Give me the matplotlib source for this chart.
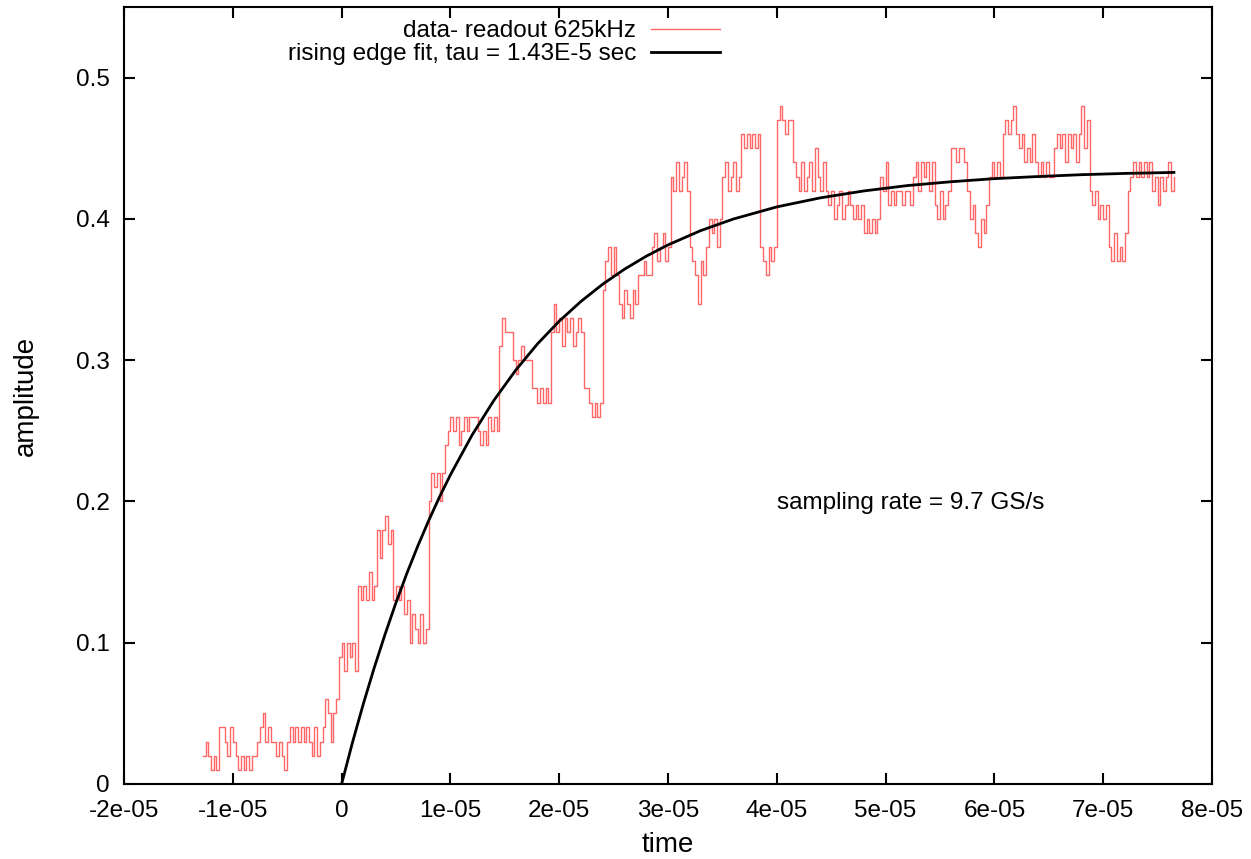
import matplotlib
matplotlib.use("Agg")
import matplotlib.pyplot as plt
import numpy as np

plt.rcParams['font.family'] = ['Liberation Sans', 'DejaVu Sans']

# readout samples (amplitude in units of 0.01), one every 0.25 us starting at -12.75 us
t_start = -12.75e-6
t_step = 0.25e-6
amp_centi = [
    2, 3, 2, 1, 2, 1, 4, 4, 3, 2, 4, 3, 2, 1, 2, 1, 2, 1, 2, 2,
    3, 4, 5, 3, 4, 3, 3, 2, 3, 2, 1, 3, 4, 3, 4, 3, 4, 3, 4, 3,
    2, 4, 2, 3, 4, 6, 5, 3, 5, 6, 9, 10, 8, 10, 9, 10, 8, 14, 13, 14,
    13, 15, 13, 14, 18, 16, 18, 19, 17, 18, 13, 14, 13, 14, 12, 13, 10, 12, 11, 10,
    12, 10, 11, 20, 22, 21, 22, 20, 22, 24, 25, 26, 25, 26, 24, 25, 26, 25, 26, 26,
    26, 25, 24, 25, 24, 26, 25, 26, 25, 31, 33, 32, 32, 32, 30, 29, 30, 31, 30, 30,
    30, 28, 28, 27, 28, 27, 28, 27, 32, 34, 32, 33, 31, 33, 32, 33, 31, 32, 33, 32,
    28, 28, 27, 26, 27, 26, 27, 35, 37, 38, 36, 38, 36, 34, 33, 35, 34, 33, 35, 34,
    36, 36, 37, 36, 36, 38, 39, 37, 38, 39, 37, 38, 43, 42, 44, 42, 43, 44, 42, 38,
    37, 36, 34, 37, 36, 38, 40, 39, 40, 38, 40, 43, 44, 42, 43, 44, 42, 43, 46, 45,
    46, 45, 46, 45, 46, 38, 37, 36, 38, 37, 38, 47, 48, 47, 46, 47, 47, 44, 43, 42,
    44, 42, 43, 44, 42, 45, 43, 42, 44, 42, 41, 42, 40, 41, 42, 40, 41, 42, 41, 40,
    41, 40, 41, 39, 40, 39, 40, 39, 40, 43, 42, 44, 41, 42, 41, 42, 42, 41, 42, 42,
    41, 43, 44, 42, 44, 43, 44, 42, 44, 41, 40, 42, 40, 41, 42, 45, 45, 44, 45, 45,
    44, 42, 40, 41, 39, 38, 40, 39, 41, 43, 44, 43, 44, 43, 46, 47, 46, 47, 48, 46,
    45, 46, 44, 45, 44, 46, 44, 43, 44, 43, 44, 43, 43, 45, 46, 45, 46, 44, 46, 45,
    46, 44, 46, 48, 45, 47, 42, 41, 42, 40, 41, 40, 41, 38, 37, 39, 37, 38, 37, 39,
    42, 43, 44, 43, 44, 43, 44, 43, 44, 42, 43, 41, 43, 42, 43, 44, 42, 43,
]

# rising edge fit (time in us, amplitude)
fit_t_us = [0, 1, 2, 3, 4, 5, 6, 7, 8, 9, 10, 12, 14, 16, 18, 20, 22, 24, 26, 28,
            30, 33, 36, 40, 44, 48, 52, 56, 60, 64, 68, 72, 76.5]
fit_amp = [0.0, 0.0294, 0.0568, 0.0823, 0.1061, 0.1284, 0.1491, 0.1684, 0.1864,
           0.2032, 0.2188, 0.2471, 0.2716, 0.2929, 0.3115, 0.3276, 0.3416, 0.3538,
           0.3644, 0.3736, 0.3816, 0.3917, 0.3999, 0.4085, 0.4149, 0.4198, 0.4236,
           0.4263, 0.4285, 0.4300, 0.4313, 0.4322, 0.4329]

x_ticks = [-2e-05, -1e-05, 0, 1e-05, 2e-05, 3e-05, 4e-05, 5e-05, 6e-05, 7e-05, 8e-05]
x_labels = ["-2e-05", "-1e-05", "0", "1e-05", "2e-05", "3e-05", "4e-05",
            "5e-05", "6e-05", "7e-05", "8e-05"]
y_ticks = [0, 0.1, 0.2, 0.3, 0.4, 0.5]
y_labels = ["0", "0.1", "0.2", "0.3", "0.4", "0.5"]

amp = np.array(amp_centi) / 100.0
t = t_start + t_step * np.arange(len(amp))
fit_t = np.array(fit_t_us) * 1e-6

fs = 17.5

fig = plt.figure(figsize=(12.51, 8.59), dpi=100)
ax = fig.add_axes([124 / 1251, 1 - 784 / 859, 1088 / 1251, 777 / 859])

ax.plot(t, amp, color='#ff0000', alpha=0.6, lw=1.0, drawstyle='steps-post',
        label="data- readout 625kHz")
ax.plot(fit_t, fit_amp, color='black', lw=2.0,
        label="rising edge fit, tau = 1.43E-5 sec")

ax.set_xlim(-2e-05, 8e-05)
ax.set_ylim(0, 0.55)
ax.set_xticks(x_ticks)
ax.set_xticklabels(x_labels)
ax.set_yticks(y_ticks)
ax.set_yticklabels(y_labels)
ax.tick_params(direction='in', length=8, width=1.5, top=True, right=True,
               labelsize=fs)
ax.tick_params(axis='x', pad=11.5)
ax.tick_params(axis='y', pad=10)
for s in ax.spines.values():
    s.set_linewidth(1.5)

ax.set_xlabel("time", fontsize=20, labelpad=7.5)
ax.set_ylabel("amplitude", fontsize=20, labelpad=27)

ax.text(5.23e-05, 0.199, "sampling rate = 9.7 GS/s", fontsize=fs,
        ha='center', va='center')

leg = ax.legend(loc='upper right', bbox_to_anchor=(0.548, 0.983), frameon=False,
                markerfirst=False, fontsize=fs, handlelength=2.85,
                labelspacing=0.05, borderpad=0, borderaxespad=0, handletextpad=0.6)

fig.savefig("out.png", dpi=100)
